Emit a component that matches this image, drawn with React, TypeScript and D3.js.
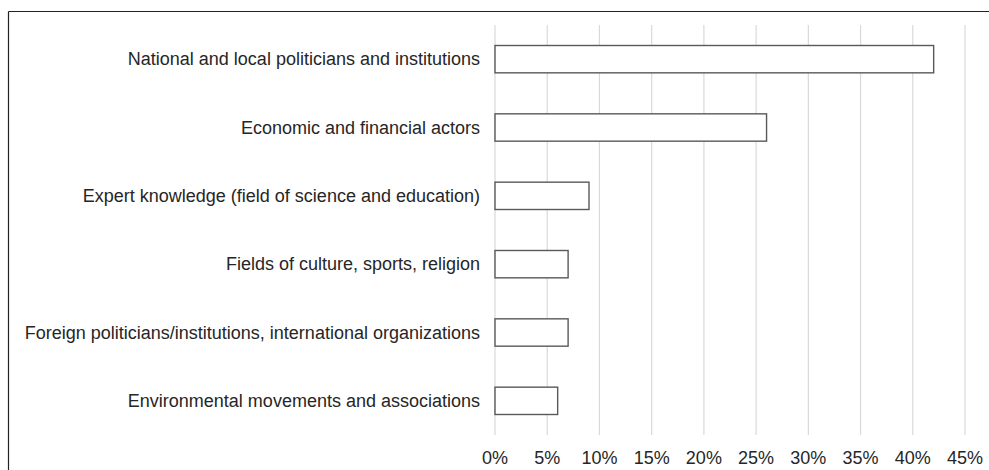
import React, { useEffect, useRef } from 'react';
import * as d3 from 'd3';

const categories = [
  'National and local politicians and institutions',
  'Economic and financial actors',
  'Expert knowledge (field of science and education)',
  'Fields of culture, sports, religion',
  'Foreign politicians/institutions, international organizations',
  'Environmental movements and associations',
];

const shares = [42, 26, 9, 7, 7, 6];

const xTicks = [0, 5, 10, 15, 20, 25, 30, 35, 40, 45];

const width = 989;
const height = 470;

export default function App() {
  const svgRef = useRef<SVGSVGElement>(null);

  useEffect(() => {
    if (!svgRef.current) return;
    const margin = { top: 25, right: 24, bottom: 35, left: 495 };
    const chartWidth = width - margin.left - margin.right;
    const chartHeight = height - margin.top - margin.bottom;

    const svg = d3.select(svgRef.current);
    svg.selectAll('*').remove();

    // frame (only top and left edges are visible)
    svg.append('line')
      .attr('x1', 8.5).attr('x2', width).attr('y1', 11.5).attr('y2', 11.5)
      .attr('stroke', '#222').attr('stroke-width', 1.2);
    svg.append('line')
      .attr('x1', 8.5).attr('x2', 8.5).attr('y1', 11.5).attr('y2', height)
      .attr('stroke', '#222').attr('stroke-width', 1.2);

    const g = svg.append('g')
      .attr('transform', `translate(${margin.left},${margin.top})`);

    const x = d3.scaleLinear().domain([0, 45]).range([0, chartWidth]);
    const y = d3.scaleBand<string>()
      .domain(categories)
      .range([0, chartHeight])
      .paddingInner(0.6)
      .paddingOuter(0.3);

    // Grid lines
    g.append('g')
      .selectAll('line')
      .data(xTicks)
      .join('line')
      .attr('x1', d => x(d))
      .attr('x2', d => x(d))
      .attr('y1', 0)
      .attr('y2', chartHeight)
      .attr('stroke', '#d9d9d9')
      .attr('stroke-width', 1.2);

    // x labels
    g.append('g')
      .selectAll('text')
      .data(xTicks)
      .join('text')
      .attr('x', d => x(d))
      .attr('y', chartHeight + 23)
      .attr('dy', '0.35em')
      .attr('text-anchor', 'middle')
      .attr('fill', '#262626')
      .style('font-size', '18px')
      .text(d => `${d}%`);

    // bars
    g.append('g')
      .selectAll('rect')
      .data(shares)
      .join('rect')
      .attr('x', 0)
      .attr('y', (d, i) => y(categories[i])!)
      .attr('width', d => x(d))
      .attr('height', y.bandwidth())
      .attr('fill', '#fff')
      .attr('stroke', '#595959')
      .attr('stroke-width', 1.4);

    // category labels
    g.append('g')
      .selectAll('text')
      .data(categories)
      .join('text')
      .attr('x', -15)
      .attr('y', d => y(d)! + y.bandwidth() / 2)
      .attr('dy', '0.35em')
      .attr('text-anchor', 'end')
      .attr('fill', '#262626')
      .style('font-size', '18px')
      .text(d => d);
  }, []);

  return (
    <svg
      ref={svgRef}
      width={width}
      height={height}
      style={{ position: 'absolute', left: 0, top: 0, background: '#fff', fontFamily: '"Liberation Sans", Arial, sans-serif' }}
    />
  );
}
